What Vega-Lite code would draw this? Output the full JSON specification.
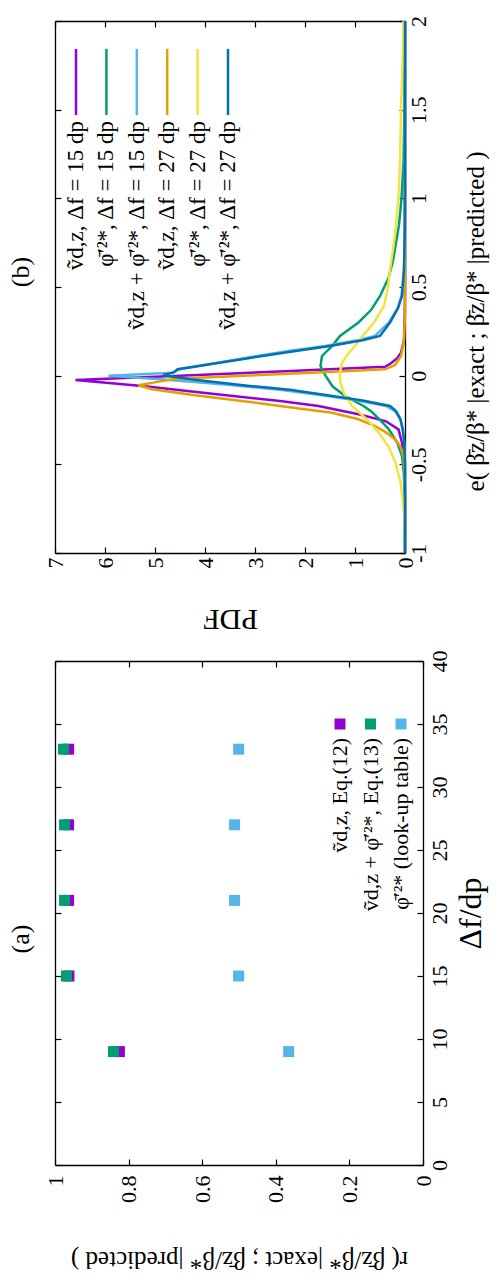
{
  "$schema": "https://vega.github.io/schema/vega-lite/v6.json",
  "background": "white",
  "padding": {"left": 8, "top": 15, "right": 10, "bottom": 40},
  "bounds": "flush",
  "spacing": 108,
  "config": {
    "view": {"stroke": null},
    "font": "Liberation Serif",
    "axis": {"grid": false, "domainColor": "#000", "domainWidth": 1.3, "tickColor": "#000", "tickWidth": 1.2, "tickSize": -6, "labelFont": "Liberation Serif", "labelFontSize": 22, "labelColor": "#000", "titleFont": "Liberation Serif", "titleFontWeight": "normal", "titleColor": "#000"},
    "title": {"font": "Liberation Serif", "fontWeight": "normal", "fontSize": 26, "color": "#000"},
    "text": {"font": "Liberation Serif", "color": "#000"}
  },
  "datasets": {
    "curves": [
      {"s":"v15","e":-1,"p":0},{"s":"v15","e":-0.65,"p":0},{"s":"v15","e":-0.55,"p":0.01},{"s":"v15","e":-0.453,"p":0.03},{"s":"v15","e":-0.378,"p":0.06},{"s":"v15","e":-0.303,"p":0.13},{"s":"v15","e":-0.256,"p":0.39},{"s":"v15","e":-0.218,"p":0.93},{"s":"v15","e":-0.171,"p":1.73},{"s":"v15","e":-0.143,"p":2.5},{"s":"v15","e":-0.1,"p":3.9},{"s":"v15","e":-0.06,"p":5.2},{"s":"v15","e":-0.025,"p":6.59},{"s":"v15","e":0,"p":4.5},{"s":"v15","e":0.025,"p":2.4},{"s":"v15","e":0.05,"p":0.4},{"s":"v15","e":0.07,"p":0.28},{"s":"v15","e":0.1,"p":0.15},{"s":"v15","e":0.13,"p":0.08},{"s":"v15","e":0.2,"p":0.02},{"s":"v15","e":0.35,"p":0.005},{"s":"v15","e":0.5,"p":0},{"s":"v15","e":2,"p":0},
      {"s":"phi15","e":-1,"p":0},{"s":"phi15","e":-0.8,"p":0.003},{"s":"phi15","e":-0.65,"p":0.01},{"s":"phi15","e":-0.55,"p":0.025},{"s":"phi15","e":-0.453,"p":0.06},{"s":"phi15","e":-0.38,"p":0.15},{"s":"phi15","e":-0.3,"p":0.33},{"s":"phi15","e":-0.25,"p":0.5},{"s":"phi15","e":-0.2,"p":0.68},{"s":"phi15","e":-0.171,"p":0.83},{"s":"phi15","e":-0.115,"p":1.2},{"s":"phi15","e":-0.06,"p":1.45},{"s":"phi15","e":0,"p":1.59},{"s":"phi15","e":0.054,"p":1.69},{"s":"phi15","e":0.111,"p":1.66},{"s":"phi15","e":0.167,"p":1.46},{"s":"phi15","e":0.224,"p":1.3},{"s":"phi15","e":0.3,"p":0.93},{"s":"phi15","e":0.37,"p":0.68},{"s":"phi15","e":0.449,"p":0.5},{"s":"phi15","e":0.55,"p":0.33},{"s":"phi15","e":0.65,"p":0.24},{"s":"phi15","e":0.731,"p":0.19},{"s":"phi15","e":0.85,"p":0.12},{"s":"phi15","e":1,"p":0.07},{"s":"phi15","e":1.2,"p":0.03},{"s":"phi15","e":1.5,"p":0.01},{"s":"phi15","e":2,"p":0},
      {"s":"vphi15","e":-1,"p":0},{"s":"vphi15","e":-0.5,"p":0},{"s":"vphi15","e":-0.4,"p":0.01},{"s":"vphi15","e":-0.3,"p":0.04},{"s":"vphi15","e":-0.245,"p":0.1},{"s":"vphi15","e":-0.2,"p":0.2},{"s":"vphi15","e":-0.171,"p":0.38},{"s":"vphi15","e":-0.14,"p":0.95},{"s":"vphi15","e":-0.115,"p":1.55},{"s":"vphi15","e":-0.08,"p":2.5},{"s":"vphi15","e":-0.05,"p":3.6},{"s":"vphi15","e":-0.02,"p":4.9},{"s":"vphi15","e":0,"p":5.93},{"s":"vphi15","e":0.017,"p":4.65},{"s":"vphi15","e":0.036,"p":4.5},{"s":"vphi15","e":0.1,"p":3.2},{"s":"vphi15","e":0.14,"p":2.3},{"s":"vphi15","e":0.167,"p":1.6},{"s":"vphi15","e":0.2,"p":0.95},{"s":"vphi15","e":0.224,"p":0.6},{"s":"vphi15","e":0.3,"p":0.32},{"s":"vphi15","e":0.38,"p":0.15},{"s":"vphi15","e":0.45,"p":0.07},{"s":"vphi15","e":0.6,"p":0.02},{"s":"vphi15","e":0.8,"p":0.005},{"s":"vphi15","e":1,"p":0},{"s":"vphi15","e":2,"p":0},
      {"s":"v27","e":-1,"p":0},{"s":"v27","e":-0.65,"p":0},{"s":"v27","e":-0.547,"p":0.01},{"s":"v27","e":-0.453,"p":0.03},{"s":"v27","e":-0.4,"p":0.09},{"s":"v27","e":-0.359,"p":0.2},{"s":"v27","e":-0.32,"p":0.38},{"s":"v27","e":-0.284,"p":0.6},{"s":"v27","e":-0.246,"p":0.93},{"s":"v27","e":-0.209,"p":1.46},{"s":"v27","e":-0.171,"p":2.5},{"s":"v27","e":-0.143,"p":3.26},{"s":"v27","e":-0.11,"p":4.2},{"s":"v27","e":-0.077,"p":5.06},{"s":"v27","e":-0.054,"p":5.33},{"s":"v27","e":-0.035,"p":4.95},{"s":"v27","e":-0.017,"p":4.59},{"s":"v27","e":0,"p":3.22},{"s":"v27","e":0.018,"p":1.77},{"s":"v27","e":0.036,"p":0.4},{"s":"v27","e":0.06,"p":0.2},{"s":"v27","e":0.11,"p":0.08},{"s":"v27","e":0.2,"p":0.02},{"s":"v27","e":0.35,"p":0},{"s":"v27","e":2,"p":0},
      {"s":"phi27","e":-1,"p":0},{"s":"phi27","e":-0.85,"p":0.005},{"s":"phi27","e":-0.735,"p":0.03},{"s":"phi27","e":-0.6,"p":0.09},{"s":"phi27","e":-0.49,"p":0.19},{"s":"phi27","e":-0.4,"p":0.33},{"s":"phi27","e":-0.32,"p":0.53},{"s":"phi27","e":-0.25,"p":0.75},{"s":"phi27","e":-0.171,"p":1.06},{"s":"phi27","e":-0.1,"p":1.22},{"s":"phi27","e":-0.03,"p":1.3},{"s":"phi27","e":0.017,"p":1.3},{"s":"phi27","e":0.073,"p":1.26},{"s":"phi27","e":0.13,"p":1.12},{"s":"phi27","e":0.167,"p":1.0},{"s":"phi27","e":0.206,"p":0.9},{"s":"phi27","e":0.3,"p":0.62},{"s":"phi27","e":0.393,"p":0.42},{"s":"phi27","e":0.5,"p":0.34},{"s":"phi27","e":0.618,"p":0.29},{"s":"phi27","e":0.731,"p":0.23},{"s":"phi27","e":0.85,"p":0.18},{"s":"phi27","e":1.013,"p":0.13},{"s":"phi27","e":1.2,"p":0.1},{"s":"phi27","e":1.5,"p":0.08},{"s":"phi27","e":1.75,"p":0.05},{"s":"phi27","e":2,"p":0.03},
      {"s":"vphi27","e":-1,"p":0},{"s":"vphi27","e":-0.5,"p":0},{"s":"vphi27","e":-0.36,"p":0.02},{"s":"vphi27","e":-0.3,"p":0.05},{"s":"vphi27","e":-0.245,"p":0.09},{"s":"vphi27","e":-0.2,"p":0.18},{"s":"vphi27","e":-0.171,"p":0.3},{"s":"vphi27","e":-0.14,"p":0.85},{"s":"vphi27","e":-0.115,"p":1.45},{"s":"vphi27","e":-0.08,"p":2.3},{"s":"vphi27","e":-0.058,"p":3.1},{"s":"vphi27","e":-0.02,"p":4.3},{"s":"vphi27","e":0.002,"p":4.84},{"s":"vphi27","e":0.02,"p":4.62},{"s":"vphi27","e":0.036,"p":4.55},{"s":"vphi27","e":0.06,"p":4.0},{"s":"vphi27","e":0.1,"p":3.1},{"s":"vphi27","e":0.14,"p":2.15},{"s":"vphi27","e":0.167,"p":1.5},{"s":"vphi27","e":0.2,"p":0.85},{"s":"vphi27","e":0.224,"p":0.5},{"s":"vphi27","e":0.3,"p":0.3},{"s":"vphi27","e":0.38,"p":0.14},{"s":"vphi27","e":0.449,"p":0.06},{"s":"vphi27","e":0.6,"p":0.02},{"s":"vphi27","e":0.8,"p":0.005},{"s":"vphi27","e":1,"p":0},{"s":"vphi27","e":2,"p":0}
    ],
    "legB": [
      {"s":"v15","label":"ṽd,z,  Δf = 15 dp"},
      {"s":"phi15","label":"φ̄′²*,  Δf = 15 dp"},
      {"s":"vphi15","label":"ṽd,z + φ̄′²*,  Δf = 15 dp"},
      {"s":"v27","label":"ṽd,z,  Δf = 27 dp"},
      {"s":"phi27","label":"φ̄′²*,  Δf = 27 dp"},
      {"s":"vphi27","label":"ṽd,z + φ̄′²*,  Δf = 27 dp"}
    ],
    "pts": [
      {"s":"v12","df":9,"r":0.825},{"s":"v12","df":15,"r":0.962},{"s":"v12","df":21,"r":0.963},{"s":"v12","df":27,"r":0.963},{"s":"v12","df":33,"r":0.963},
      {"s":"vphi13","df":9,"r":0.841},{"s":"vphi13","df":15,"r":0.969},{"s":"vphi13","df":21,"r":0.974},{"s":"vphi13","df":27,"r":0.974},{"s":"vphi13","df":33,"r":0.977},
      {"s":"phi","df":9,"r":0.365},{"s":"phi","df":15,"r":0.501},{"s":"phi","df":21,"r":0.512},{"s":"phi","df":27,"r":0.512},{"s":"phi","df":33,"r":0.501}
    ],
    "legA": [
      {"s":"v12","label":"ṽd,z,  Eq.(12)"},
      {"s":"vphi13","label":"ṽd,z + φ̄′²*,  Eq.(13)"},
      {"s":"phi","label":"φ̄′²* (look-up table)"}
    ]
  },
  "vconcat": [
    {
      "width": 350,
      "height": 532,
      "title": {"text": "(b)", "orient": "left", "offset": 10, "dx": 15},
      "layer": [
        {
          "data": {"name": "curves"},
          "mark": {"type": "line", "strokeWidth": 2.5},
          "encoding": {
            "x": {"field": "p", "type": "quantitative", "scale": {"domain": [0, 7], "reverse": true, "nice": false, "zero": false},
              "axis": {"orient": "bottom", "values": [0,1,2,3,4,5,6,7], "format": "~g", "labelAngle": 270, "labelPadding": 10, "title": "PDF", "titleAngle": 180, "titleFontSize": 30, "titleBaseline": "middle", "titleY": 65}},
            "y": {"field": "e", "type": "quantitative", "scale": {"domain": [-1, 2], "nice": false, "zero": false},
              "axis": {"orient": "right", "values": [-1,-0.5,0,0.5,1,1.5,2], "labelAngle": 270, "labelPadding": 9, "labelExpr": "replace(format(datum.value, '~g'), '−', '-')", "title": "e( β̄z/β* |exact ;  β̄z/β* |predicted )", "titleAngle": 270, "titleFontSize": 25, "titleBaseline": "middle", "titleX": 70, "titleY": 300}},
            "color": {"field": "s", "type": "nominal", "scale": {"domain": ["v15","phi15","vphi15","v27","phi27","vphi27"], "range": ["#9400d3","#009e73","#56b4e9","#e69f00","#f0e442","#0072b2"]}, "legend": null},
            "order": {"field": "e", "type": "quantitative"}
          }
        },
        {
          "data": {"name": "curves"},
          "mark": {"type": "point", "opacity": 0},
          "encoding": {
            "x": {"field": "p", "type": "quantitative", "scale": {"domain": [0, 7], "reverse": true, "nice": false, "zero": false}, "axis": {"orient": "top", "values": [0,1,2,3,4,5,6,7], "labels": false, "title": null}},
            "y": {"field": "e", "type": "quantitative", "axis": {"orient": "left", "values": [-1,-0.5,0,0.5,1,1.5,2], "labels": false, "title": null}}
          }
        },
        {
          "data": {"name": "legB"},
          "mark": {"type": "rule", "strokeWidth": 2.5},
          "encoding": {
            "x": {"field": "s", "type": "nominal", "scale": {"type": "point", "domain": ["v15","phi15","vphi15","v27","phi27","vphi27"], "range": [21, 173], "padding": 0}, "axis": null},
            "y": {"datum": 1.842, "type": "quantitative", "axis": null},
            "y2": {"datum": 1.47},
            "color": {"field": "s", "type": "nominal", "legend": null}
          }
        },
        {
          "data": {"name": "legB"},
          "mark": {"type": "text", "angle": 270, "align": "right", "baseline": "middle", "fontSize": 23},
          "encoding": {
            "x": {"field": "s", "type": "nominal", "scale": {"type": "point", "domain": ["v15","phi15","vphi15","v27","phi27","vphi27"], "range": [21, 173], "padding": 0}, "axis": null},
            "y": {"datum": 1.436, "type": "quantitative", "axis": null},
            "text": {"field": "label"}
          }
        }
      ],
      "resolve": {"scale": {"x": "independent"}, "axis": {"x": "independent", "y": "independent"}}
    },
    {
      "width": 368,
      "height": 504,
      "title": {"text": "(a)", "orient": "left", "offset": 10, "dx": -26},
      "layer": [
        {
          "data": {"name": "pts"},
          "mark": {"type": "point", "shape": "square", "filled": true, "size": 121, "opacity": 1},
          "encoding": {
            "x": {"field": "r", "type": "quantitative", "scale": {"domain": [0, 1], "reverse": true, "nice": false, "zero": false},
              "axis": {"orient": "bottom", "values": [0,0.2,0.4,0.6,0.8,1], "format": "~g", "labelAngle": 270, "labelPadding": 16, "title": "r( β̄z/β* |exact ;  β̄z/β* |predicted )", "titleAngle": 180, "titleFontSize": 25, "titleBaseline": "middle", "titleY": 94}},
            "y": {"field": "df", "type": "quantitative", "scale": {"domain": [0, 40], "nice": false, "zero": false},
              "axis": {"orient": "right", "values": [0,5,10,15,20,25,30,35,40], "labelAngle": 270, "labelPadding": 12, "title": "Δf/dp", "titleAngle": 270, "titleFontSize": 32, "titleBaseline": "middle", "titleX": 47}},
            "color": {"field": "s", "type": "nominal", "scale": {"domain": ["v12","vphi13","phi"], "range": ["#9400d3","#009e73","#56b4e9"]}, "legend": null}
          }
        },
        {
          "data": {"name": "pts"},
          "mark": {"type": "point", "opacity": 0},
          "encoding": {
            "x": {"field": "r", "type": "quantitative", "scale": {"domain": [0, 1], "reverse": true, "nice": false, "zero": false}, "axis": {"orient": "top", "values": [0,0.2,0.4,0.6,0.8,1], "labels": false, "title": null}},
            "y": {"field": "df", "type": "quantitative", "axis": {"orient": "left", "values": [0,5,10,15,20,25,30,35,40], "labels": false, "title": null}}
          }
        },
        {
          "data": {"name": "legA"},
          "mark": {"type": "point", "shape": "square", "filled": true, "size": 121, "opacity": 1},
          "encoding": {
            "x": {"field": "s", "type": "nominal", "scale": {"type": "point", "domain": ["v12","vphi13","phi"], "range": [285, 346], "padding": 0}, "axis": null},
            "y": {"datum": 35, "type": "quantitative", "axis": null},
            "color": {"field": "s", "type": "nominal", "legend": null}
          }
        },
        {
          "data": {"name": "legA"},
          "mark": {"type": "text", "angle": 270, "align": "right", "baseline": "middle", "fontSize": 22},
          "encoding": {
            "x": {"field": "s", "type": "nominal", "scale": {"type": "point", "domain": ["v12","vphi13","phi"], "range": [285, 346], "padding": 0}, "axis": null},
            "y": {"datum": 33.9, "type": "quantitative", "axis": null},
            "text": {"field": "label"}
          }
        }
      ],
      "resolve": {"scale": {"x": "independent"}, "axis": {"x": "independent", "y": "independent"}}
    }
  ]
}
